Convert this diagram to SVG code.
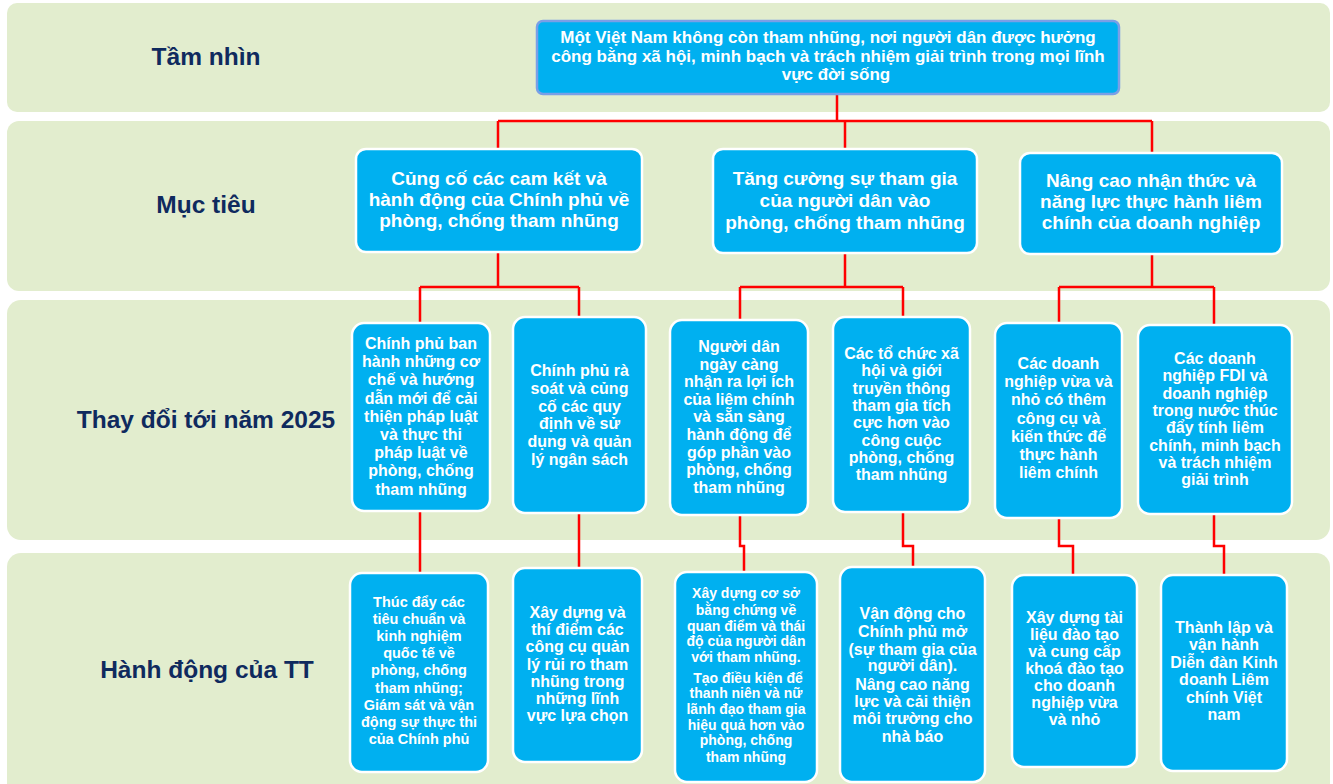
<svg xmlns="http://www.w3.org/2000/svg" width="1333" height="784" viewBox="0 0 1333 784">
<style>
.band{fill:#E2EDCE}
.lbl{font-family:"Liberation Sans",Arial,sans-serif;font-weight:bold;font-size:24.5px;fill:#0F2A5E;text-anchor:middle}
.box{fill:#00B0F0;stroke:#FFFFFF;stroke-width:2.5}
.vbox{fill:#00B0F0;stroke:#7A9FE6;stroke-width:2.5}
.t{font-family:"Liberation Sans",Arial,sans-serif;font-weight:bold;fill:#FFFFFF;text-anchor:middle}
.s19{font-size:19px}.s17{font-size:17px}.s16{font-size:16px}.s14{font-size:14.5px}.s13{font-size:14px}
.conn{fill:none;stroke:#FF0000;stroke-width:2.5}
</style>
<rect width="1333" height="784" fill="#FFFFFF"/>
<g id="bands">
<rect class="band" x="7" y="3" width="1323" height="109" rx="10"/>
<rect class="band" x="7" y="121" width="1323" height="170" rx="12"/>
<rect class="band" x="7" y="300" width="1323" height="240" rx="14"/>
<rect class="band" x="7" y="553" width="1323" height="245" rx="14"/>
<text class="lbl" x="206" y="65">Tầm nhìn</text>
<text class="lbl" x="206" y="213">Mục tiêu</text>
<text class="lbl" x="206" y="428">Thay đổi tới năm 2025</text>
<text class="lbl" x="207" y="678">Hành động của TT</text>
</g>
<g id="connectors">
<path class="conn" d="M837 94V121M498 121H1152M498 121V149M845 121V149M1152 121V153"/>
<path class="conn" d="M498 252V287M420 287H579M420 287V323M579 287V317"/>
<path class="conn" d="M845 253V287M740 287H903M740 287V320M903 287V317"/>
<path class="conn" d="M1152 254V287M1059 287H1214M1059 287V323M1214 287V325"/>
<path class="conn" d="M420 511V573"/>
<path class="conn" d="M579 513V568"/>
<path class="conn" d="M740 515V546H744V572"/>
<path class="conn" d="M903 512V546H913V567"/>
<path class="conn" d="M1059 518V546H1073V575"/>
<path class="conn" d="M1214 514V546H1224V575"/>
</g>
<g id="vision">
<rect class="vbox" x="537" y="21" width="582" height="73" rx="6"/>
<text class="t s17"><tspan x="828" y="43">Một Việt Nam không còn tham nhũng, nơi người dân được hưởng</tspan><tspan x="828" y="62">công bằng xã hội, minh bạch và trách nhiệm giải trình trong mọi lĩnh</tspan><tspan x="836" y="80">vực đời sống</tspan></text>
</g>
<g id="goal1">
<rect class="box" x="356" y="149" width="286" height="103" rx="10"/>
<text class="t s19"><tspan x="499" y="185">Củng cố các cam kết và</tspan><tspan x="499" y="206">hành động của Chính phủ về</tspan><tspan x="499" y="227">phòng, chống tham nhũng</tspan></text>
</g>
<g id="goal2">
<rect class="box" x="713" y="149" width="264" height="104" rx="10"/>
<text class="t s19"><tspan x="845" y="185">Tăng cường sự tham gia</tspan><tspan x="845" y="207">của người dân vào</tspan><tspan x="845" y="229">phòng, chống tham nhũng</tspan></text>
</g>
<g id="goal3">
<rect class="box" x="1020" y="153" width="262" height="101" rx="10"/>
<text class="t s19"><tspan x="1151" y="187">Nâng cao nhận thức và</tspan><tspan x="1151" y="208">năng lực thực hành liêm</tspan><tspan x="1151" y="229">chính của doanh nghiệp</tspan></text>
</g>
<g id="change1">
<rect class="box" x="352" y="323" width="138" height="188" rx="12"/>
<text class="t s16"><tspan x="421" y="349">Chính phủ ban</tspan><tspan x="421" y="367.2">hành những cơ</tspan><tspan x="421" y="385.4">chế và hướng</tspan><tspan x="421" y="403.6">dẫn mới để cải</tspan><tspan x="421" y="421.8">thiện pháp luật</tspan><tspan x="421" y="440">và thực thi</tspan><tspan x="421" y="458.2">pháp luật về</tspan><tspan x="421" y="476.4">phòng, chống</tspan><tspan x="421" y="494.6">tham nhũng</tspan></text>
</g>
<g id="change2">
<rect class="box" x="513" y="317" width="133" height="196" rx="12"/>
<text class="t s16"><tspan x="579.5" y="376">Chính phủ rà</tspan><tspan x="579.5" y="393.8">soát và củng</tspan><tspan x="579.5" y="411.6">cố các quy</tspan><tspan x="579.5" y="429.4">định về sử</tspan><tspan x="579.5" y="447.2">dụng và quản</tspan><tspan x="579.5" y="465">lý ngân sách</tspan></text>
</g>
<g id="change3">
<rect class="box" x="670" y="320" width="138" height="195" rx="12"/>
<text class="t s16"><tspan x="739" y="352">Người dân</tspan><tspan x="739" y="369.6">ngày càng</tspan><tspan x="739" y="387.2">nhận ra lợi ích</tspan><tspan x="739" y="404.8">của liêm chính</tspan><tspan x="739" y="422.4">và sẵn sàng</tspan><tspan x="739" y="440">hành động để</tspan><tspan x="739" y="457.6">góp phần vào</tspan><tspan x="739" y="475.2">phòng, chống</tspan><tspan x="739" y="492.8">tham nhũng</tspan></text>
</g>
<g id="change4">
<rect class="box" x="833" y="317" width="137" height="195" rx="12"/>
<text class="t s16"><tspan x="901.5" y="359">Các tổ chức xã</tspan><tspan x="901.5" y="376.3">hội và giới</tspan><tspan x="901.5" y="393.6">truyền thông</tspan><tspan x="901.5" y="410.9">tham gia tích</tspan><tspan x="901.5" y="428.2">cực hơn vào</tspan><tspan x="901.5" y="445.5">công cuộc</tspan><tspan x="901.5" y="462.8">phòng, chống</tspan><tspan x="901.5" y="480.1">tham nhũng</tspan></text>
</g>
<g id="change5">
<rect class="box" x="995" y="323" width="127" height="195" rx="12"/>
<text class="t s16"><tspan x="1058.5" y="369">Các doanh</tspan><tspan x="1058.5" y="387.2">nghiệp vừa và</tspan><tspan x="1058.5" y="405.4">nhỏ có thêm</tspan><tspan x="1058.5" y="423.6">công cụ và</tspan><tspan x="1058.5" y="441.8">kiến thức để</tspan><tspan x="1058.5" y="460">thực hành</tspan><tspan x="1058.5" y="478.2">liêm chính</tspan></text>
</g>
<g id="change6">
<rect class="box" x="1138" y="325" width="154" height="189" rx="12"/>
<text class="t s16"><tspan x="1215" y="364">Các doanh</tspan><tspan x="1215" y="381.3">nghiệp FDI và</tspan><tspan x="1215" y="398.6">doanh nghiệp</tspan><tspan x="1215" y="415.9">trong nước thúc</tspan><tspan x="1215" y="433.2">đẩy tính liêm</tspan><tspan x="1215" y="450.5">chính, minh bạch</tspan><tspan x="1215" y="467.8">và trách nhiệm</tspan><tspan x="1215" y="485.1">giải trình</tspan></text>
</g>
<g id="action1">
<rect class="box" x="350" y="573" width="138" height="199" rx="12"/>
<text class="t s14"><tspan x="419" y="607">Thúc đẩy các</tspan><tspan x="419" y="624.1">tiêu chuẩn và</tspan><tspan x="419" y="641.2">kinh nghiệm</tspan><tspan x="419" y="658.3">quốc tế về</tspan><tspan x="419" y="675.4">phòng, chống</tspan><tspan x="419" y="692.5">tham nhũng;</tspan><tspan x="419" y="709.6">Giám sát và vận</tspan><tspan x="419" y="726.7">động sự thực thi</tspan><tspan x="419" y="743.8">của Chính phủ</tspan></text>
</g>
<g id="action2">
<rect class="box" x="513" y="568" width="129" height="194" rx="12"/>
<text class="t s16"><tspan x="577.5" y="618">Xây dựng và</tspan><tspan x="577.5" y="635.2">thí điểm các</tspan><tspan x="577.5" y="652.4">công cụ quản</tspan><tspan x="577.5" y="669.6">lý rủi ro tham</tspan><tspan x="577.5" y="686.8">nhũng trong</tspan><tspan x="577.5" y="704">những lĩnh</tspan><tspan x="577.5" y="721.2">vực lựa chọn</tspan></text>
</g>
<g id="action3">
<rect class="box" x="675" y="572" width="142" height="210" rx="12"/>
<text class="t s13"><tspan x="746" y="598">Xây dựng cơ sở</tspan><tspan x="746" y="615">bằng chứng về</tspan><tspan x="746" y="631">quan điểm và thái</tspan><tspan x="746" y="646">độ của người dân</tspan><tspan x="746" y="662">với tham nhũng.</tspan><tspan x="748" y="683">Tạo điều kiện để</tspan><tspan x="746" y="698">thanh niên và nữ</tspan><tspan x="746" y="714">lãnh đạo tham gia</tspan><tspan x="746" y="730">hiệu quả hơn vào</tspan><tspan x="746" y="745">phòng, chống</tspan><tspan x="746" y="762">tham nhũng</tspan></text>
</g>
<g id="action4">
<rect class="box" x="840" y="567" width="145" height="215" rx="12"/>
<text class="t s16"><tspan x="912.5" y="619">Vận động cho</tspan><tspan x="912.5" y="637">Chính phủ mở</tspan><tspan x="912.5" y="655">(sự tham gia của</tspan><tspan x="912.5" y="671">người dân).</tspan><tspan x="912.5" y="690">Nâng cao năng</tspan><tspan x="912.5" y="707">lực và cải thiện</tspan><tspan x="912.5" y="724">môi trường cho</tspan><tspan x="912.5" y="742">nhà báo</tspan></text>
</g>
<g id="action5">
<rect class="box" x="1012" y="575" width="125" height="192" rx="12"/>
<text class="t s16"><tspan x="1074.5" y="623">Xây dựng tài</tspan><tspan x="1074.5" y="640">liệu đào tạo</tspan><tspan x="1074.5" y="657">và cung cấp</tspan><tspan x="1074.5" y="674">khoá đào tạo</tspan><tspan x="1074.5" y="691">cho doanh</tspan><tspan x="1074.5" y="708">nghiệp vừa</tspan><tspan x="1074.5" y="725">và nhỏ</tspan></text>
</g>
<g id="action6">
<rect class="box" x="1161" y="575" width="126" height="196" rx="12"/>
<text class="t s16"><tspan x="1224" y="633">Thành lập và</tspan><tspan x="1224" y="650.4">vận hành</tspan><tspan x="1224" y="667.8">Diễn đàn Kinh</tspan><tspan x="1224" y="685.2">doanh Liêm</tspan><tspan x="1224" y="702.6">chính Việt</tspan><tspan x="1224" y="720">nam</tspan></text>
</g>
</svg>
